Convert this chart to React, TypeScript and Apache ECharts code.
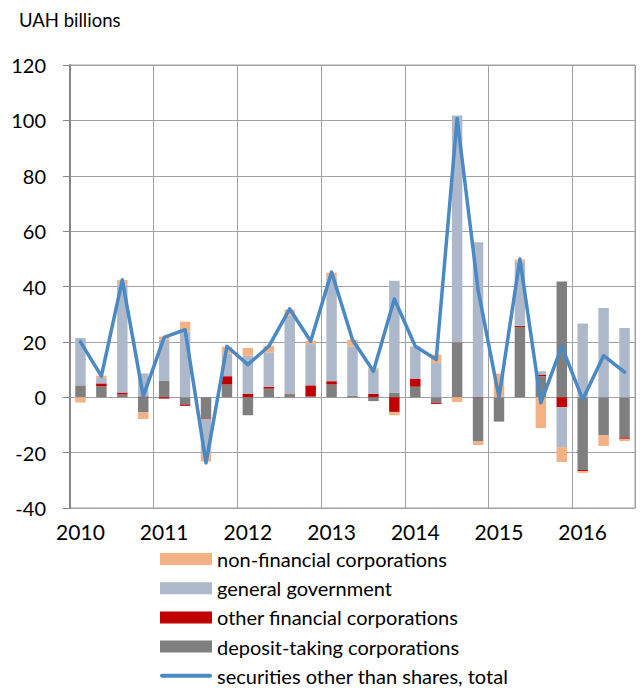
import React, { useEffect, useRef } from "react";
import * as echarts from "echarts";

const quarters: string[] = [
  "2010Q1", "2010Q2", "2010Q3", "2010Q4",
  "2011Q1", "2011Q2", "2011Q3", "2011Q4",
  "2012Q1", "2012Q2", "2012Q3", "2012Q4",
  "2013Q1", "2013Q2", "2013Q3", "2013Q4",
  "2014Q1", "2014Q2", "2014Q3", "2014Q4",
  "2015Q1", "2015Q2", "2015Q3", "2015Q4",
  "2016Q1", "2016Q2", "2016Q3",
];

const depositTaking: number[] = [
  4.3, 4.0, 1.0, -5.5, 6.0, -2.6, -7.7, 4.6, -6.5, 3.1, 1.1, 0.3, 4.6, 0.6,
  -1.4, 1.7, 3.8, -2.0, 19.6, -16.0, -8.8, 25.4, 7.6, 41.8, -26.3, -13.8, -14.5,
];

const otherFinancial: number[] = [
  0, 1.0, 0.7, 0.3, -0.5, -0.5, -0.3, 3.0, 1.3, 0.7, 0.2, 4.0, 1.2, 0,
  1.2, -5.3, 2.8, -0.4, 0.2, 0.2, 0, 0.4, 0.6, -3.6, -0.4, 0, -0.5,
];

const generalGovernment: number[] = [
  17.1, 2.0, 39.0, 8.3, 14.8, 23.8, -12.0, 8.1, 13.7, 12.4, 28.2, 14.9, 36.9, 17.8,
  8.8, 40.4, 11.5, 12.4, 82.0, 55.8, 0, 23.2, 1.2, -14.4, 26.6, 32.2, 25.0,
];

const nonFinancial: number[] = [
  -1.9, 0.8, 1.6, -2.4, 1.1, 3.5, -3.2, 2.5, 2.8, 2.4, 2.2, 1.2, 2.3, 2.4,
  0.5, -1.2, 0.3, 3.0, -1.7, -1.3, 8.5, 0.7, -11.1, -5.4, -0.6, -3.8, -0.8,
];

const total: number[] = [
  20.0, 7.6, 42.4, 0.4, 21.6, 24.4, -23.7, 18.4, 11.8, 18.4, 31.9, 20.2, 45.2, 20.8,
  9.4, 35.5, 18.4, 13.6, 100.7, 38.8, 0.0, 49.9, -2.0, 18.4, -0.8, 15.0, 9.1,
];

const FONT = "Lato";

export default function App() {
  const ref = useRef<HTMLDivElement>(null);

  useEffect(() => {
    if (!ref.current) return;
    const chart = echarts.init(ref.current, undefined, { renderer: "svg" });
    const barCommon = {
      type: "bar" as const,
      stack: "s",
      barWidth: "50%",
    };
    chart.setOption({
      animation: false,
      backgroundColor: "#ffffff",
      grid: {
        left: 70,
        right: 5,
        top: 65,
        bottom: 180,
        show: true,
        borderColor: "#a0a0a0",
        borderWidth: 1,
      },
      graphic: [
        {
          type: "text",
          left: 19,
          top: 10,
          style: {
            text: "UAH billions",
            fontFamily: FONT,
            fontSize: 18.5,
            fill: "#000000",
          },
        },
      ],
      legend: {
        orient: "vertical",
        left: 160,
        top: 549,
        padding: 0,
        itemWidth: 52,
        itemHeight: 12,
        itemGap: 9.2,
        textStyle: {
          fontFamily: FONT,
          fontSize: 20,
          color: "#000000",
          lineHeight: 20,
        },
        data: [
          { name: "non-financial corporations", icon: "rect" },
          { name: "general government", icon: "rect" },
          { name: "other financial corporations", icon: "rect" },
          { name: "deposit-taking corporations", icon: "rect" },
          {
            name: "securities other than shares, total",
            icon: "path://M2,0 H50 A2,2 0 0 1 50,4 H2 A2,2 0 0 1 2,0 Z",
          },
        ],
      },
      xAxis: {
        type: "category",
        data: quarters,
        boundaryGap: true,
        axisLine: { show: true, lineStyle: { color: "#a0a0a0", width: 1 } },
        axisTick: { show: false },
        axisLabel: {
          interval: 3,
          margin: 13,
          fontFamily: FONT,
          fontSize: 21,
          color: "#000000",
          formatter: (v: string) => v.slice(0, 4),
        },
        splitLine: {
          show: true,
          interval: 3,
          lineStyle: { color: "#a0a0a0", width: 1 },
        },
      },
      yAxis: {
        type: "value",
        min: -40,
        max: 120,
        interval: 20,
        axisLine: { show: true, lineStyle: { color: "#868686", width: 2 } },
        axisTick: {
          show: true,
          inside: false,
          length: 7,
          lineStyle: { color: "#868686", width: 1 },
        },
        axisLabel: {
          margin: 24,
          fontFamily: FONT,
          fontSize: 20,
          color: "#000000",
        },
        splitLine: { show: true, lineStyle: { color: "#a0a0a0", width: 1 } },
      },
      series: [
        {
          ...barCommon,
          name: "deposit-taking corporations",
          data: depositTaking,
          itemStyle: { color: "#7f7f7f" },
        },
        {
          ...barCommon,
          name: "other financial corporations",
          data: otherFinancial,
          itemStyle: { color: "#c00000" },
        },
        {
          ...barCommon,
          name: "general government",
          data: generalGovernment,
          itemStyle: { color: "#adb9ca" },
        },
        {
          ...barCommon,
          name: "non-financial corporations",
          data: nonFinancial,
          itemStyle: { color: "#f4b183" },
        },
        {
          type: "line",
          name: "securities other than shares, total",
          data: total,
          symbol: "none",
          z: 5,
          itemStyle: { color: "#4a89c3" },
          lineStyle: { color: "#4a89c3", width: 3.5, cap: "round", join: "round" },
        },
      ],
    });
    return () => chart.dispose();
  }, []);

  return (
    <div
      ref={ref}
      style={{ position: "fixed", left: 0, top: 0, width: 640, height: 688 }}
    />
  );
}
